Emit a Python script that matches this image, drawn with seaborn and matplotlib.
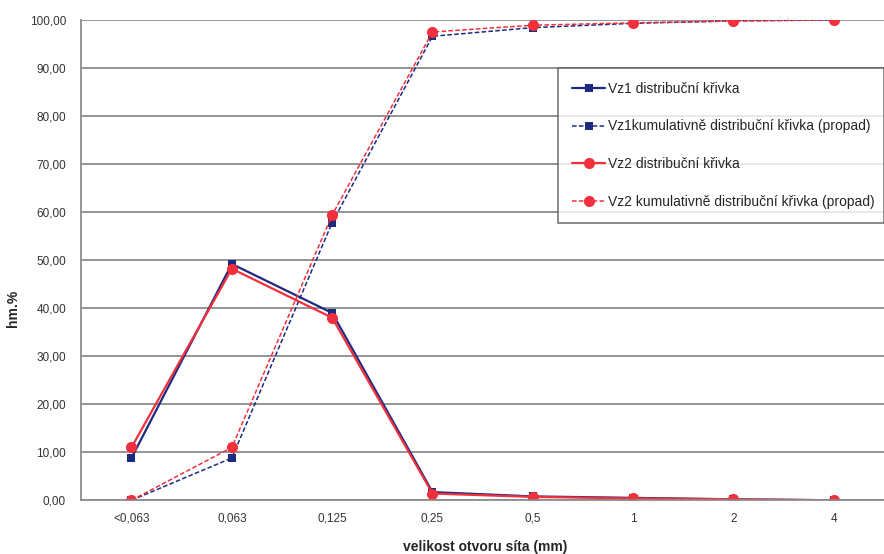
import pandas as pd
import matplotlib
matplotlib.use('Agg')
import matplotlib.pyplot as plt
import seaborn as sns

# Data
sizes = ['<0,063', '0,063', '0,125', '0,25', '0,5', '1', '2', '4']
vz1_dist = [8.8, 49.2, 39.0, 1.7, 0.8, 0.5, 0.2, 0.0]
vz1_cum = [0.0, 8.8, 57.8, 96.6, 98.4, 99.3, 99.8, 100.0]
vz2_dist = [11.0, 48.2, 38.0, 1.4, 0.7, 0.4, 0.2, 0.0]
vz2_cum = [0.0, 11.0, 59.4, 97.5, 98.9, 99.4, 99.8, 100.0]

labels = ['Vz1 distribuční křivka',
          'Vz1kumulativně distribuční křivka (propad)',
          'Vz2 distribuční křivka',
          'Vz2 kumulativně distribuční křivka (propad)']

sns.set_style('white')
plt.rcParams['font.family'] = ['Liberation Sans', 'DejaVu Sans']

blue = '#1c2a80'
red = '#f2303c'
grid_c = '#8c8c8c'

df = pd.DataFrame({'pos': range(len(sizes)),
                   'vz1_dist': vz1_dist, 'vz1_cum': vz1_cum,
                   'vz2_dist': vz2_dist, 'vz2_cum': vz2_cum})

fig, ax = plt.subplots(figsize=(8.84, 5.54), dpi=100)
fig.subplots_adjust(left=0.092, right=1.0, top=0.964, bottom=0.097)

sns.lineplot(data=df, x='pos', y='vz1_dist', ax=ax, color=blue, lw=1.6,
             marker='s', markersize=5.5, markeredgewidth=0, label=labels[0])
sns.lineplot(data=df, x='pos', y='vz1_cum', ax=ax, color=blue, lw=1.1,
             ls=(0, (3, 1.5)), marker='s', markersize=5.5, markeredgewidth=0,
             label=labels[1])
sns.lineplot(data=df, x='pos', y='vz2_dist', ax=ax, color=red, lw=1.6,
             marker='o', markersize=8, markeredgewidth=0, label=labels[2])
sns.lineplot(data=df, x='pos', y='vz2_cum', ax=ax, color=red, lw=1.1,
             ls=(0, (3, 1.5)), marker='o', markersize=8, markeredgewidth=0,
             label=labels[3])

ax.set_xlim(-0.48, 7.41)
ax.set_ylim(0, 100)
ax.set_yticks(range(0, 101, 10))
ax.set_yticklabels([f'{v},00' for v in range(0, 101, 10)], fontsize=8.5, color='#333333')
ax.set_xticks(range(len(sizes)))
ax.set_xticklabels(sizes, fontsize=8.5, color='#333333')
ax.set_xticks([i + 0.5 for i in range(-1, len(sizes))], minor=True)
ax.tick_params(axis='x', which='major', length=0, pad=9)
ax.tick_params(axis='x', which='minor', length=4, color=grid_c, width=1)
ax.tick_params(axis='y', length=5, color=grid_c, width=1, pad=6)

ax.grid(axis='y', color=grid_c, lw=1.3)
ax.set_axisbelow(True)
for s in ['top', 'right']:
    ax.spines[s].set_visible(False)
for s in ['left', 'bottom']:
    ax.spines[s].set_color(grid_c)
    ax.spines[s].set_linewidth(1.3)

ax.set_xlabel('velikost otvoru síta (mm)', fontsize=10, fontweight='bold')
ax.set_ylabel('hm.%', fontsize=10, fontweight='bold')
ax.xaxis.set_label_coords(0.503, -0.083)
ax.yaxis.set_label_coords(-0.077, 0.40)

leg = ax.legend(loc='upper left', bbox_to_anchor=(0.594, 0.58, 0.406, 0.32),
                mode='expand', fontsize=10, frameon=True, fancybox=False,
                handlelength=2.4, handletextpad=0.2, labelspacing=1.7,
                borderpad=1.0, borderaxespad=0)
leg.get_frame().set_edgecolor('#555555')
leg.get_frame().set_linewidth(1.2)

plt.savefig('out.png', dpi=100)
